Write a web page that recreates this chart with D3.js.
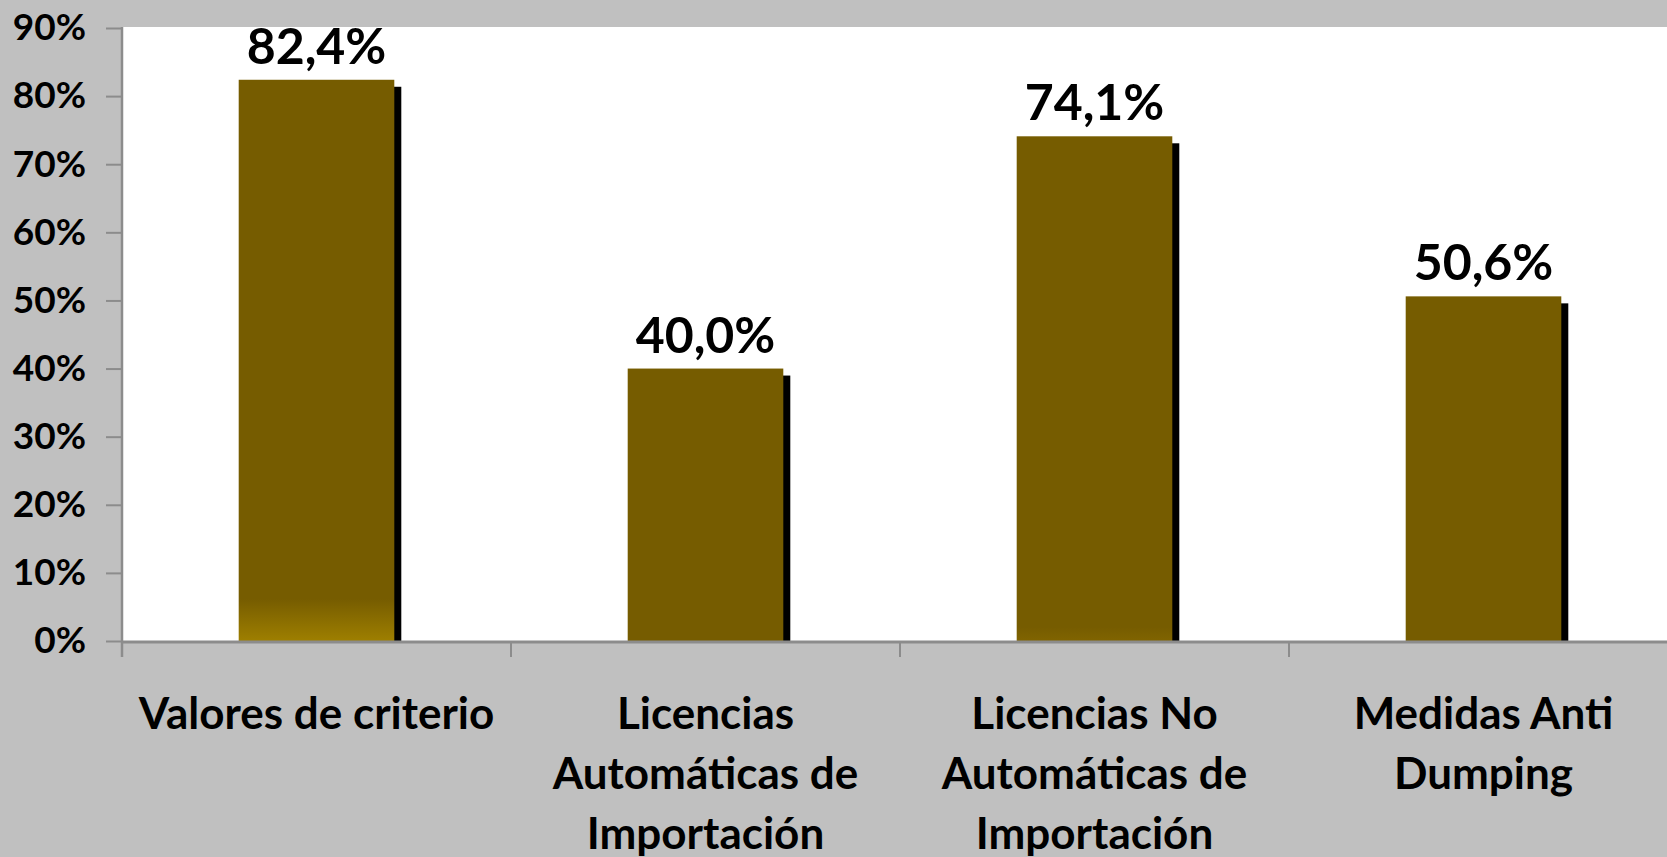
<!DOCTYPE html>
<html>
<head>
<meta charset="utf-8">
<script src="https://cdn.jsdelivr.net/npm/d3@7/dist/d3.min.js"></script>
<style>
  html, body { margin: 0; padding: 0; background: #C0C0C0; }
  svg { display: block; }
  text { font-family: Lato, "Open Sans", sans-serif; font-weight: bold; fill: #000; }
</style>
</head>
<body>
<script>
// Data
const categories = [
  "Valores de criterio",
  "Licencias Automáticas de Importación",
  "Licencias No Automáticas de Importación",
  "Medidas Anti Dumping"
];
const categoryLabelLines = [
  ["Valores de criterio"],
  ["Licencias", "Automáticas de", "Importación"],
  ["Licencias No", "Automáticas de", "Importación"],
  ["Medidas Anti", "Dumping"]
];
const values = [0.824, 0.400, 0.741, 0.506];
const valueLabels = ["82,4%", "40,0%", "74,1%", "50,6%"];
const yTicks = [0, 0.1, 0.2, 0.3, 0.4, 0.5, 0.6, 0.7, 0.8, 0.9];
const yTickLabels = ["0%", "10%", "20%", "30%", "40%", "50%", "60%", "70%", "80%", "90%"];

// Layout
const W = 1667, H = 857;
const plot = { left: 122, top: 27, bottom: 641 };
const step = 389;
const barColor = "#765C00";
const axisColor = "#8C8C8C";
// lighter gold glow near the base of some bars: [height of glow, base colour]
const baseGlow = [[42, "#9E7F00"], null, [14, "#806400"], null];

const svg = d3.select("body").append("svg")
  .attr("width", W).attr("height", H);

svg.append("rect").attr("width", W).attr("height", H).attr("fill", "#C0C0C0");

const x = d3.scaleBand()
  .domain(categories)
  .range([plot.left, plot.left + step * categories.length])
  .paddingInner(0.6)
  .paddingOuter(0.3);

const y = d3.scaleLinear()
  .domain([0, 0.9])
  .range([plot.bottom, plot.top + 1]);

// Plot area
svg.append("rect")
  .attr("x", plot.left).attr("y", plot.top)
  .attr("width", W - plot.left).attr("height", plot.bottom - plot.top)
  .attr("fill", "#FFFFFF");

// Gradients
const defs = svg.append("defs");
baseGlow.forEach((g, i) => {
  if (!g) return;
  const grad = defs.append("linearGradient")
    .attr("id", "glow" + i)
    .attr("gradientUnits", "userSpaceOnUse")
    .attr("x1", 0).attr("x2", 0)
    .attr("y1", y(0) - g[0]).attr("y2", y(0));
  grad.append("stop").attr("offset", 0).attr("stop-color", barColor);
  grad.append("stop").attr("offset", 1).attr("stop-color", g[1]);
});

const bars = svg.append("g");
const shadowOff = 7;

// Shadows
bars.selectAll("rect.shadow")
  .data(values)
  .join("rect")
  .attr("class", "shadow")
  .attr("x", (d, i) => x(categories[i]) + shadowOff)
  .attr("y", d => y(d) + shadowOff)
  .attr("width", x.bandwidth())
  .attr("height", d => y(0) - y(d) - shadowOff)
  .attr("fill", "#000");

// Bars
bars.selectAll("rect.bar")
  .data(values)
  .join("rect")
  .attr("class", "bar")
  .attr("x", (d, i) => x(categories[i]))
  .attr("y", d => y(d))
  .attr("width", x.bandwidth())
  .attr("height", d => y(0) - y(d))
  .attr("fill", (d, i) => baseGlow[i] ? `url(#glow${i})` : barColor);

// Value labels
svg.append("g").selectAll("text")
  .data(values)
  .join("text")
  .attr("x", (d, i) => x(categories[i]) + x.bandwidth() / 2)
  .attr("y", d => y(d) - 16)
  .attr("text-anchor", "middle")
  .attr("font-size", 50)
  .text((d, i) => valueLabels[i]);

// Y axis
const yAxis = d3.axisLeft(y)
  .tickValues(yTicks)
  .tickFormat((d, i) => yTickLabels[i])
  .tickSize(16)
  .tickSizeOuter(0)
  .tickPadding(20);

const gy = svg.append("g")
  .attr("transform", `translate(${plot.left},0)`)
  .call(yAxis);
gy.select(".domain").remove();
gy.selectAll(".tick line").attr("stroke", axisColor).attr("stroke-width", 2);
gy.selectAll(".tick text")
  .attr("font-size", 37)
  .attr("font-family", "Lato, sans-serif")
  .attr("font-weight", "bold")
  .attr("fill", "#000");
svg.append("line")
  .attr("x1", plot.left).attr("x2", plot.left)
  .attr("y1", plot.top).attr("y2", plot.bottom + 16)
  .attr("stroke", axisColor).attr("stroke-width", 2.5);

// X axis
const gx = svg.append("g")
  .attr("transform", `translate(0,${plot.bottom})`)
  .call(d3.axisBottom(x).tickSize(0).tickSizeOuter(0).tickFormat(""));
gx.select(".domain").remove();
gx.append("line")
  .attr("x1", plot.left).attr("x2", W)
  .attr("y1", 1).attr("y2", 1)
  .attr("stroke", axisColor).attr("stroke-width", 3);

// Category separators
const bounds = categories.map((c, i) => x(c) - x.step() * x.paddingOuter());
gx.selectAll("line.sep")
  .data(bounds.slice(1))
  .join("line")
  .attr("class", "sep")
  .attr("x1", d => d).attr("x2", d => d)
  .attr("y1", 0).attr("y2", 16)
  .attr("stroke", axisColor).attr("stroke-width", 2);

// Category labels
gx.selectAll(".tick").each(function(c, i) {
  const t = d3.select(this).select("text")
    .attr("font-size", 44)
    .attr("font-family", "Lato, sans-serif")
    .attr("font-weight", "bold")
    .attr("fill", "#000")
    .attr("dy", null)
    .attr("y", 0);
  t.selectAll("tspan")
    .data(categoryLabelLines[i])
    .join("tspan")
    .attr("x", 0)
    .attr("y", (d, k) => 88 + k * 60)
    .text(d => d);
});
</script>
</body>
</html>
